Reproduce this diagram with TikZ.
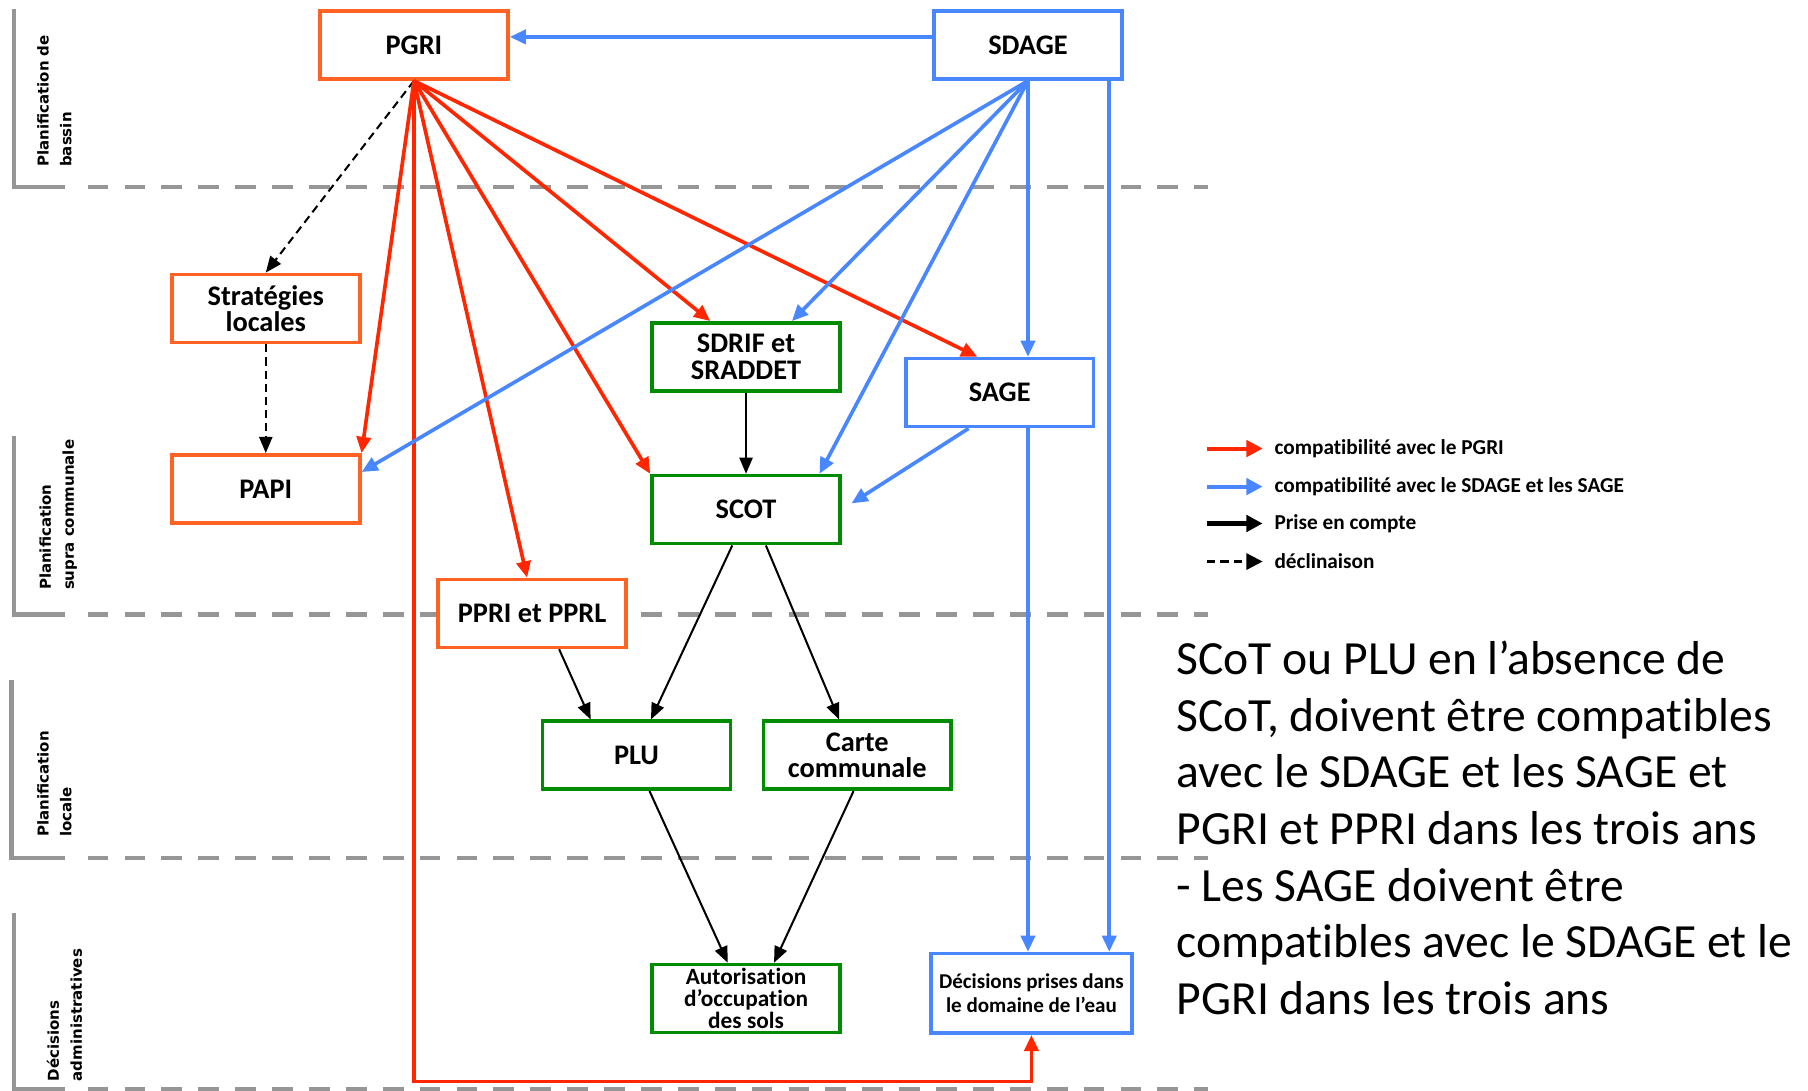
\documentclass[tikz,border=0pt]{standalone}
\usepackage{fontspec}
\setmainfont[Ligatures={NoCommon}]{Carlito}
\newfontfamily\ebenefont{DejaVu Sans}
\usetikzlibrary{arrows.meta}

\definecolor{rahmenorange}{RGB}{255,98,35}
\definecolor{pfeilrot}{RGB}{255,38,0}
\definecolor{sdblau}{RGB}{72,135,255}
\definecolor{gruen}{RGB}{0,140,0}
\definecolor{trenngrau}{RGB}{150,150,150}

\tikzset{
	kasten/.style={draw=#1, line width=1.8pt, fill=white, text=black, minimum width=3.26cm, minimum height=1.18cm, inner sep=1pt, align=center, font=\fontsize{14}{13}\selectfont\bfseries},
	kastenklein/.style={kasten=#1, font=\fontsize{11.5}{10.8}\selectfont\bfseries},
	rotpfeil/.style={pfeilrot, line width=1.8pt, -{Triangle[length=8pt,width=7pt]}},
	blaupfeil/.style={sdblau, line width=1.8pt, -{Triangle[length=8pt,width=7pt]}},
	schwarzpfeil/.style={black, line width=1pt, -{Triangle[length=8pt,width=6.5pt]}},
	strichpfeil/.style={schwarzpfeil, dash pattern=on 4pt off 2.5pt},
	trennlinie/.style={trenngrau, line width=2.2pt, dash pattern=on 0.36cm off 0.28cm},
	klammer/.style={trenngrau, line width=2.2pt},
	ebene/.style={rotate=90, anchor=base west, align=left, inner sep=0pt, font=\ebenefont\bfseries\fontsize{7.4}{11.3}\selectfont},
	legende/.style={anchor=west, inner sep=0pt, font=\fontsize{10.5}{12}\selectfont\bfseries}
}

\begin{document}
\begin{tikzpicture}[x=0.02cm, y=-0.02cm]
	\fill[white] (0,0) rectangle (1568,946); % Weisser Hintergrund
	\useasboundingbox (0,0) rectangle (1568,946);
	
	% Ebenen
	\draw[klammer] (12,8) -- (12,162) -- (56,162);
	\draw[trennlinie] (76,162) -- (1048,162);
	\draw[klammer] (12,378) -- (12,533) -- (56,533);
	\draw[trennlinie] (76,533) -- (1048,533);
	\draw[klammer] (10,590) -- (10,744) -- (56,744);
	\draw[trennlinie] (76,744) -- (1048,744);
	\draw[klammer] (12,792) -- (12,945) -- (56,945);
	\draw[trennlinie] (76,945) -- (1048,945);
	
	\node[ebene] (bassin) at (62,145) {Planification de\\bassin};
	\node[ebene] (supra) at (64,512) {Planification\\supra communale};
	\node[ebene] (locale) at (62,726) {Planification\\locale};
	\node[ebene] (admin) at (71,938) {Décisions\\administratives};
	
	% Kaesten
	\node[kasten=rahmenorange] (pgri) at (359,39) {PGRI};
	\node[kasten=sdblau] (sdage) at (891.5,39) {SDAGE};
	\node[kasten=rahmenorange] (strat) at (230.5,267.5) {Stratégies\\locales};
	\node[kasten=gruen] (sdrif) at (647,309.5) {SDRIF et\\SRADDET};
	\node[kasten=sdblau] (sage) at (867,340.5) {SAGE};
	\node[kasten=rahmenorange] (papi) at (230.5,424) {PAPI};
	\node[kasten=gruen] (scot) at (647,442) {SCOT};
	\node[kasten=rahmenorange] (ppri) at (461.5,532) {PPRI et PPRL};
	\node[kasten=gruen] (plu) at (552,655) {PLU};
	\node[kasten=gruen] (carte) at (743.5,655) {Carte\\communale};
	\node[kastenklein=gruen] (autor) at (647,866) {Autorisation\\d’occupation\\des sols};
	\node[kastenklein=sdblau, minimum width=3.48cm, minimum height=1.38cm, font=\fontsize{10.4}{11.9}\selectfont\bfseries] (decis) at (894.5,861.5) {Décisions prises dans\\le domaine de l’eau};
	
	\coordinate (unten) at (0,938);
	\coordinate (sdrechts) at (962,70);
	
	% PGRI
	\draw[strichpfeil] (pgri.south) -- (strat.north);
	\draw[rotpfeil] (pgri.south) -- (papi.north east);
	\draw[rotpfeil] (pgri.south) -- (ppri.98);
	\draw[rotpfeil] (pgri.south) -- (scot.north west);
	\draw[rotpfeil] (pgri.south) -- (sdrif.135);
	\draw[rotpfeil] (pgri.south) -- (sage.122);
	\draw[rotpfeil] (pgri.south) -- (pgri.south |- unten) -| (decis.south);
	
	% SDAGE
	\draw[blaupfeil] ([yshift=0.14cm]sdage.west) -- ([yshift=0.14cm]pgri.east);
	\draw[blaupfeil] (sdage.south) -- (papi.10);
	\draw[blaupfeil] (sdage.south) -- (sdrif.38);
	\draw[blaupfeil] (sdage.south) -- (scot.26);
	\draw[blaupfeil] (sdage.south) -- (sdage.south |- sage.north);
	\draw[blaupfeil] (sdrechts) -- (sdrechts |- decis.north);
	\draw[blaupfeil] (sdage.south |- sage.south) -- (sdage.south |- decis.north);
	\draw[blaupfeil, shorten >=0.2cm] (sage.229) -- (scot.east);
	
	% Prise en compte
	\draw[strichpfeil] (strat.south) -- (papi.north);
	\draw[schwarzpfeil] (sdrif.south) -- (scot.north);
	\draw[schwarzpfeil] (scot.249) -- (plu.68);
	\draw[schwarzpfeil] (scot.299) -- (carte.117);
	\draw[schwarzpfeil] (ppri.307) -- (plu.142);
	\draw[schwarzpfeil] (plu.290) -- (autor.117);
	\draw[schwarzpfeil] (carte.264) -- (autor.52);
	
	% Legende
	\node[legende] (lgrot) at (1105,389) {compatibilité avec le PGRI};
	\node[legende] (lgblau) at (1105,422) {compatibilité avec le SDAGE et les SAGE};
	\node[legende] (lgprise) at (1105,454) {Prise en compte};
	\node[legende] (lgdecl) at (1105,487) {déclinaison};
	\draw[rotpfeil, line width=2pt, -{Triangle[length=8pt,width=8pt]}] ([xshift=-1.16cm]lgrot.west) -- ([xshift=-0.2cm]lgrot.west);
	\draw[blaupfeil, line width=2pt, -{Triangle[length=8pt,width=8pt]}] ([xshift=-1.16cm]lgblau.west) -- ([xshift=-0.2cm]lgblau.west);
	\draw[schwarzpfeil, line width=2pt, -{Triangle[length=8pt,width=8pt]}] ([xshift=-1.16cm]lgprise.west) -- ([xshift=-0.2cm]lgprise.west);
	\draw[strichpfeil, line width=1.2pt, -{Triangle[length=8pt,width=8pt]}] ([xshift=-1.16cm]lgdecl.west) -- ([xshift=-0.2cm]lgdecl.west);
	
	\node[anchor=base west, align=left, inner sep=0pt, font=\fontsize{23.5}{28}\selectfont] (hinweis) at (1020,880) {SCoT ou PLU en l’absence de\\SCoT, doivent être compatibles\\avec le SDAGE et les SAGE et\\PGRI et PPRI dans les trois ans\\- Les SAGE doivent être\\compatibles avec le SDAGE et le\\PGRI dans les trois ans};
	
	%\draw[help lines, step=50] (0,0) grid (1568,946);
\end{tikzpicture}
\end{document}
